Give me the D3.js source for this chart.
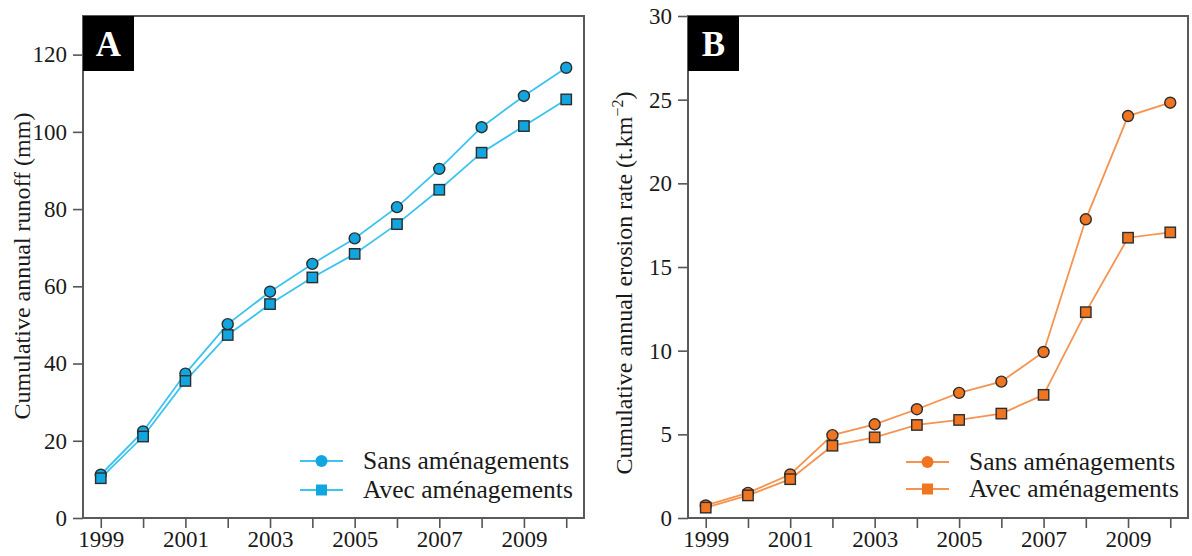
<!DOCTYPE html>
<html>
<head>
<meta charset="utf-8">
<script src="https://cdn.jsdelivr.net/npm/d3@7"></script>
<style>
  html, body { margin: 0; padding: 0; background: #fff; }
  svg { display: block; font-family: "Liberation Serif", "DejaVu Serif", serif; }
</style>
</head>
<body>
<svg id="chart" width="1192" height="556"></svg>
<script>
// ---- Data ----
const years = [1999, 2000, 2001, 2002, 2003, 2004, 2005, 2006, 2007, 2008, 2009, 2010];
const runoffSans = [11.2, 22.4, 37.4, 50.2, 58.6, 65.8, 72.4, 80.5, 90.4, 101.2, 109.3, 116.6];
const runoffAvec = [10.3, 21.1, 35.5, 47.4, 55.4, 62.3, 68.4, 76.1, 85.0, 94.6, 101.5, 108.4];
const erosionSans = [0.75, 1.5, 2.6, 4.95, 5.6, 6.5, 7.48, 8.15, 9.92, 17.85, 24.02, 24.82];
const erosionAvec = [0.62, 1.35, 2.32, 4.32, 4.82, 5.56, 5.86, 6.24, 7.36, 12.3, 16.75, 17.07];
const seriesNames = ["Sans aménagements", "Avec aménagements"];
const xTickLabels = [1999, 2001, 2003, 2005, 2007, 2009];
const runoffTicks = [0, 20, 40, 60, 80, 100, 120];
const erosionTicks = [0, 5, 10, 15, 20, 25, 30];

const svg = d3.select("#chart");

function panel(cfg) {
  const g = svg.append("g");
  const x = d3.scaleLinear().domain([1998.58, 2010.42]).range([cfg.left, cfg.right]);
  const y = d3.scaleLinear().domain(cfg.yDomain).range([518, 16]);

  // x axis
  const xAxis = d3.axisBottom(x).tickValues(years).tickSize(10).tickPadding(3)
    .tickFormat(d => xTickLabels.includes(d) ? d : "");
  const gx = g.append("g").attr("transform", "translate(0,518)").call(xAxis);
  // y axis
  const yAxis = d3.axisLeft(y).tickValues(cfg.yTicks).tickSize(10).tickPadding(6).tickFormat(d3.format("d"));
  const gy = g.append("g").attr("transform", `translate(${cfg.left},0)`).call(yAxis);
  [gx, gy].forEach(a => {
    a.select(".domain").remove();
    a.selectAll(".tick line").attr("stroke", "#555").attr("stroke-width", 1.6);
    a.selectAll(".tick text").attr("fill", "#1a1a1a").style("font-size", "23px")
      .style("font-family", '"Liberation Serif", serif');
  });
  gx.selectAll(".tick text").attr("dy", "0.71em");

  // frame
  g.append("rect").attr("x", cfg.left).attr("y", 16)
    .attr("width", cfg.right - cfg.left).attr("height", 518 - 16)
    .attr("fill", "none").attr("stroke", "#5a5a5a").attr("stroke-width", 2);

  // series
  const line = d3.line().x((d, i) => x(years[i])).y(d => y(d));
  cfg.series.forEach((vals, si) => {
    g.append("path").datum(vals).attr("d", line)
      .attr("fill", "none").attr("stroke", cfg.lineColor).attr("stroke-width", 1.8);
  });
  cfg.series.forEach((vals, si) => {
    if (si === 0) {
      g.selectAll(null).data(vals).enter().append("circle")
        .attr("cx", (d, i) => x(years[i])).attr("cy", d => y(d)).attr("r", 5.5)
        .attr("fill", cfg.markColor).attr("stroke", "#2d2d2d").attr("stroke-width", 1.4);
    } else {
      g.selectAll(null).data(vals).enter().append("rect")
        .attr("x", (d, i) => x(years[i]) - 5.2).attr("y", d => y(d) - 5.2)
        .attr("width", 10.4).attr("height", 10.4)
        .attr("fill", cfg.markColor).attr("stroke", "#2d2d2d").attr("stroke-width", 1.4);
    }
  });

  // panel letter box
  g.append("rect").attr("x", cfg.left).attr("y", 16).attr("width", 51).attr("height", 55).attr("fill", "#000");
  g.append("text").attr("x", cfg.left + 25.5).attr("y", 56).attr("text-anchor", "middle")
    .attr("fill", "#fff").style("font-size", "35px").style("font-weight", "bold").text(cfg.letter);

  // y title
  const t = g.append("text")
    .attr("transform", `translate(${cfg.titleX},${cfg.titleY}) rotate(-90)`)
    .attr("text-anchor", "middle").attr("fill", "#1a1a1a").style("font-size", "24px");
  cfg.title(t);

  // legend
  const lg = g.append("g");
  seriesNames.forEach((name, i) => {
    const ly = cfg.legY[i];
    lg.append("line").attr("x1", cfg.legX).attr("x2", cfg.legX + 43).attr("y1", ly).attr("y2", ly)
      .attr("stroke", cfg.lineColor).attr("stroke-width", 1.8);
    const cx = cfg.legX + 21.5;
    if (i === 0) {
      lg.append("circle").attr("cx", cx).attr("cy", ly).attr("r", 6).attr("fill", cfg.markColor);
    } else {
      lg.append("rect").attr("x", cx - 5.5).attr("y", ly - 5.5).attr("width", 11).attr("height", 11).attr("fill", cfg.markColor);
    }
    lg.append("text").attr("x", cfg.legX + 63).attr("y", ly + 8).attr("fill", "#1a1a1a")
      .style("font-size", "25.5px").text(name);
  });
}

panel({
  left: 83, right: 584, yDomain: [0, 130], yTicks: runoffTicks,
  series: [runoffSans, runoffAvec], lineColor: "#3cc3f0", markColor: "#12a6e0",
  letter: "A", titleX: 30, titleY: 266,
  title: t => t.text("Cumulative annual runoff (mm)"),
  legX: 300, legY: [461, 490]
});

panel({
  left: 688, right: 1188, yDomain: [0, 30], yTicks: erosionTicks,
  series: [erosionSans, erosionAvec], lineColor: "#f59450", markColor: "#ef7521",
  letter: "B", titleX: 632, titleY: 283,
  title: t => {
    t.append("tspan").text("Cumulative annual erosion rate (t.km");
    t.append("tspan").attr("dy", "-9").style("font-size", "16px").text("−2");
    t.append("tspan").attr("dy", "9").text(")");
  },
  legX: 906, legY: [462, 489]
});
</script>
</body>
</html>
